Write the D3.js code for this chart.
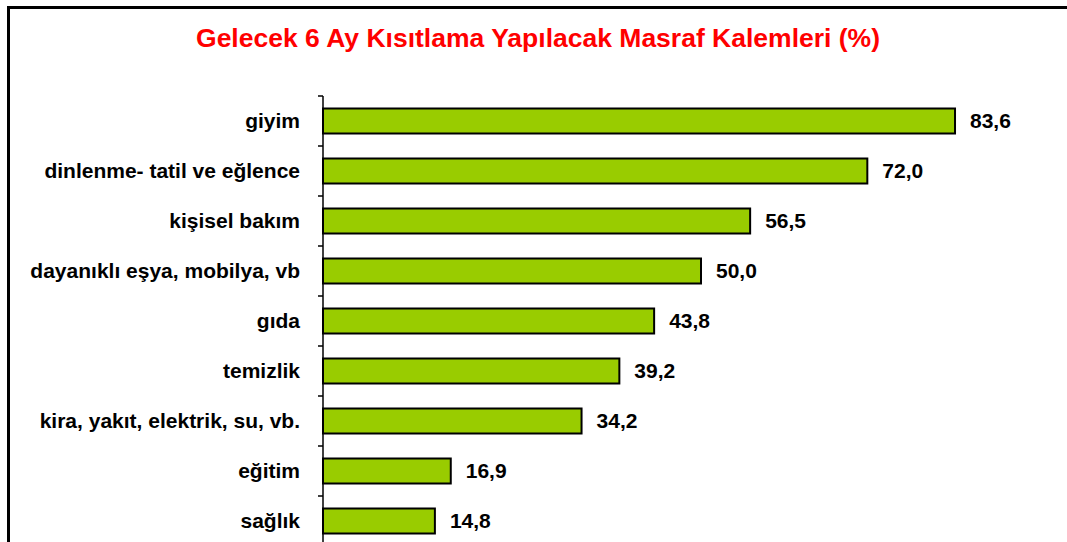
<!DOCTYPE html>
<html>
<head>
<meta charset="utf-8">
<script src="https://cdn.jsdelivr.net/npm/d3@7"></script>
<style>
  body { margin: 0; background: #fff; }
  svg { display: block; font-family: "Liberation Sans", Arial, sans-serif; }
</style>
</head>
<body>
<div id="plot"></div>
<script>
// data
var categories = ["giyim", "dinlenme- tatil ve eğlence", "kişisel bakım", "dayanıklı eşya, mobilya, vb",
  "gıda", "temizlik", "kira, yakıt, elektrik, su, vb.", "eğitim", "sağlık"];
var values = [83.6, 72.0, 56.5, 50.0, 43.8, 39.2, 34.2, 16.9, 14.8];
var title = "Gelecek 6 Ay Kısıtlama Yapılacak Masraf Kalemleri (%)";

var W = 1067, H = 542;

var svg = d3.select("#plot")
  .append("svg")
  .attr("width", W)
  .attr("height", H);

// chart area frame (runs off right and bottom)
svg.append("rect")
  .attr("x", 8.5)
  .attr("y", 7.5)
  .attr("width", W + 20)
  .attr("height", H + 20)
  .attr("fill", "none")
  .attr("stroke", "#000")
  .attr("stroke-width", 3);

svg.append("text")
  .attr("x", 538)
  .attr("y", 47)
  .attr("text-anchor", "middle")
  .style("font-size", "26.5px")
  .style("font-weight", "bold")
  .style("fill", "#ff0000")
  .text(title);

var data = categories.map(function(c, i) { return {name: c, value: values[i]}; });

var x = d3.scaleLinear()
  .domain([0, 100])
  .range([323, 323 + 756]);

var y = d3.scaleBand()
  .domain(categories)
  .range([96, 546])
  .paddingInner(0.5)
  .paddingOuter(0.25);

// bars
svg.append("g")
  .selectAll("rect")
  .data(data)
  .enter()
  .append("rect")
    .attr("x", x(0))
    .attr("y", function(d) { return y(d.name); })
    .attr("width", function(d) { return x(d.value) - x(0); })
    .attr("height", y.bandwidth())
    .attr("fill", "#99cc00")
    .attr("stroke", "#000")
    .attr("stroke-width", 2);

// category axis with ticks between bands
var step = y.step();
var tickYs = d3.range(categories.length + 1).map(function(i) { return 96 + i * step; });
var axis = svg.append("g");
axis.append("line")
  .attr("x1", x(0)).attr("x2", x(0))
  .attr("y1", 96).attr("y2", H + 10)
  .attr("stroke", "#000")
  .attr("stroke-width", 1.5);
axis.selectAll("line.tick")
  .data(tickYs)
  .enter()
  .append("line")
    .attr("class", "tick")
    .attr("x1", x(0) - 5).attr("x2", x(0))
    .attr("y1", function(d) { return d; })
    .attr("y2", function(d) { return d; })
    .attr("stroke", "#000")
    .attr("stroke-width", 1.5);

// category labels
svg.append("g")
  .selectAll("text")
  .data(data)
  .enter()
  .append("text")
    .attr("x", 300)
    .attr("y", function(d) { return y(d.name) + y.bandwidth() / 2; })
    .attr("dy", "0.35em")
    .attr("text-anchor", "end")
    .style("font-size", "21px")
    .style("font-weight", "bold")
    .text(function(d) { return d.name; });

// value labels
svg.append("g")
  .selectAll("text")
  .data(data)
  .enter()
  .append("text")
    .attr("x", function(d) { return x(d.value) + 15; })
    .attr("y", function(d) { return y(d.name) + y.bandwidth() / 2; })
    .attr("dy", "0.35em")
    .style("font-size", "21px")
    .style("font-weight", "bold")
    .text(function(d) { return d.value.toFixed(1).replace(".", ","); });
</script>
</body>
</html>
